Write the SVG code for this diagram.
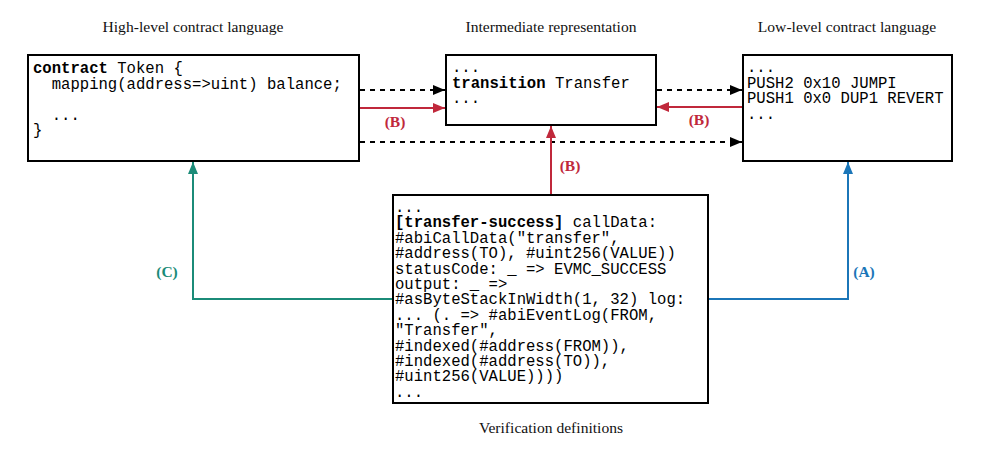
<svg xmlns="http://www.w3.org/2000/svg" width="995" height="456" viewBox="0 0 995 456">
<style>
.box{fill:#fff;stroke:#000;stroke-width:2}
.title{font-family:"Liberation Serif",serif;font-size:15.6px;fill:#111;text-anchor:middle}
.code{font-family:"Liberation Mono",monospace;font-size:15.6px;fill:#000;white-space:pre}
.b{font-weight:bold}
.dash{stroke:#000;stroke-width:2;stroke-dasharray:5 5;fill:none}
.red{stroke:#c0283b;stroke-width:2;fill:none}
.teal{stroke:#1b8b78;stroke-width:2;fill:none}
.blue{stroke:#1b76b8;stroke-width:2;fill:none}
.lbl{font-family:"Liberation Serif",serif;font-size:15.5px;font-weight:bold;text-anchor:middle}
</style>
<defs>
<marker id="ak" viewBox="0 0 12 10" refX="12" refY="5" markerWidth="12" markerHeight="10" markerUnits="userSpaceOnUse" orient="auto"><path d="M0,0 L12,5 L0,10 Z" fill="#000"/></marker>
<marker id="ar" viewBox="0 0 12 10" refX="12" refY="5" markerWidth="12" markerHeight="10" markerUnits="userSpaceOnUse" orient="auto"><path d="M0,0 L12,5 L0,10 Z" fill="#c0283b"/></marker>
<marker id="at" viewBox="0 0 12 10" refX="12" refY="5" markerWidth="12" markerHeight="10" markerUnits="userSpaceOnUse" orient="auto"><path d="M0,0 L12,5 L0,10 Z" fill="#1b8b78"/></marker>
<marker id="ab" viewBox="0 0 12 10" refX="12" refY="5" markerWidth="12" markerHeight="10" markerUnits="userSpaceOnUse" orient="auto"><path d="M0,0 L12,5 L0,10 Z" fill="#1b76b8"/></marker>
</defs>
<rect width="995" height="456" fill="#fff"/>
<text class="title" x="193" y="32">High-level contract language</text>
<text class="title" x="551" y="32">Intermediate representation</text>
<text class="title" x="847" y="32">Low-level contract language</text>
<text class="title" x="551" y="433">Verification definitions</text>

<g id="connectors">
<line class="dash" x1="360" y1="90" x2="445" y2="90" marker-end="url(#ak)"/>
<line class="red" x1="360" y1="108" x2="445" y2="108" marker-end="url(#ar)"/>
<text class="lbl" x="395" y="127" fill="#c0283b">(B)</text>
<line class="dash" x1="360" y1="142" x2="742" y2="142" marker-end="url(#ak)"/>
<line class="dash" x1="657" y1="90" x2="742" y2="90" marker-end="url(#ak)"/>
<line class="red" x1="742" y1="107" x2="657" y2="107" marker-end="url(#ar)"/>
<text class="lbl" x="699" y="125" fill="#c0283b">(B)</text>
<line class="red" x1="551" y1="194" x2="551" y2="126" marker-end="url(#ar)"/>
<text class="lbl" x="570" y="171" fill="#c0283b">(B)</text>
<polyline class="teal" points="392,299 193,299 193,162" marker-end="url(#at)"/>
<text class="lbl" x="167" y="277" fill="#1b8b78">(C)</text>
<polyline class="blue" points="709,299 848,299 848,162" marker-end="url(#ab)"/>
<text class="lbl" x="864" y="277" fill="#1b76b8">(A)</text>
</g>

<g id="high">
<rect class="box" x="28" y="55" width="331" height="106"/>
<text class="code" x="33" y="73"><tspan class="b">contract</tspan> Token {</text>
<text class="code" x="33" y="88.5">  mapping(address=&gt;uint) balance;</text>
<text class="code" x="33" y="119.5">  ...</text>
<text class="code" x="33" y="135">}</text>
</g>

<g id="ir">
<rect class="box" x="446" y="55" width="210" height="70"/>
<text class="code" x="452" y="72">...</text>
<text class="code" x="452" y="87.5"><tspan class="b">transition</tspan> Transfer</text>
<text class="code" x="452" y="103">...</text>
</g>

<g id="low">
<rect class="box" x="743" y="55" width="209" height="106"/>
<text class="code" x="747" y="72">...</text>
<text class="code" x="747" y="87.5">PUSH2 0x10 JUMPI</text>
<text class="code" x="747" y="103">PUSH1 0x0 DUP1 REVERT</text>
<text class="code" x="747" y="118.5">...</text>
</g>

<g id="verif">
<rect class="box" x="393" y="195" width="315" height="208"/>
<text class="code" x="395" y="212">...</text>
<text class="code" x="395" y="227.4"><tspan class="b">[transfer-success]</tspan> callData:</text>
<text class="code" x="395" y="242.8">#abiCallData("transfer",</text>
<text class="code" x="395" y="258.2">#address(TO), #uint256(VALUE))</text>
<text class="code" x="395" y="273.6">statusCode: _ =&gt; EVMC_SUCCESS</text>
<text class="code" x="395" y="289">output: _ =&gt;</text>
<text class="code" x="395" y="304.4">#asByteStackInWidth(1, 32) log:</text>
<text class="code" x="395" y="319.8">... (. =&gt; #abiEventLog(FROM,</text>
<text class="code" x="395" y="335.2">"Transfer",</text>
<text class="code" x="395" y="350.6">#indexed(#address(FROM)),</text>
<text class="code" x="395" y="366">#indexed(#address(TO)),</text>
<text class="code" x="395" y="381.4">#uint256(VALUE))))</text>
<text class="code" x="395" y="396.8">...</text>
</g>
</svg>
